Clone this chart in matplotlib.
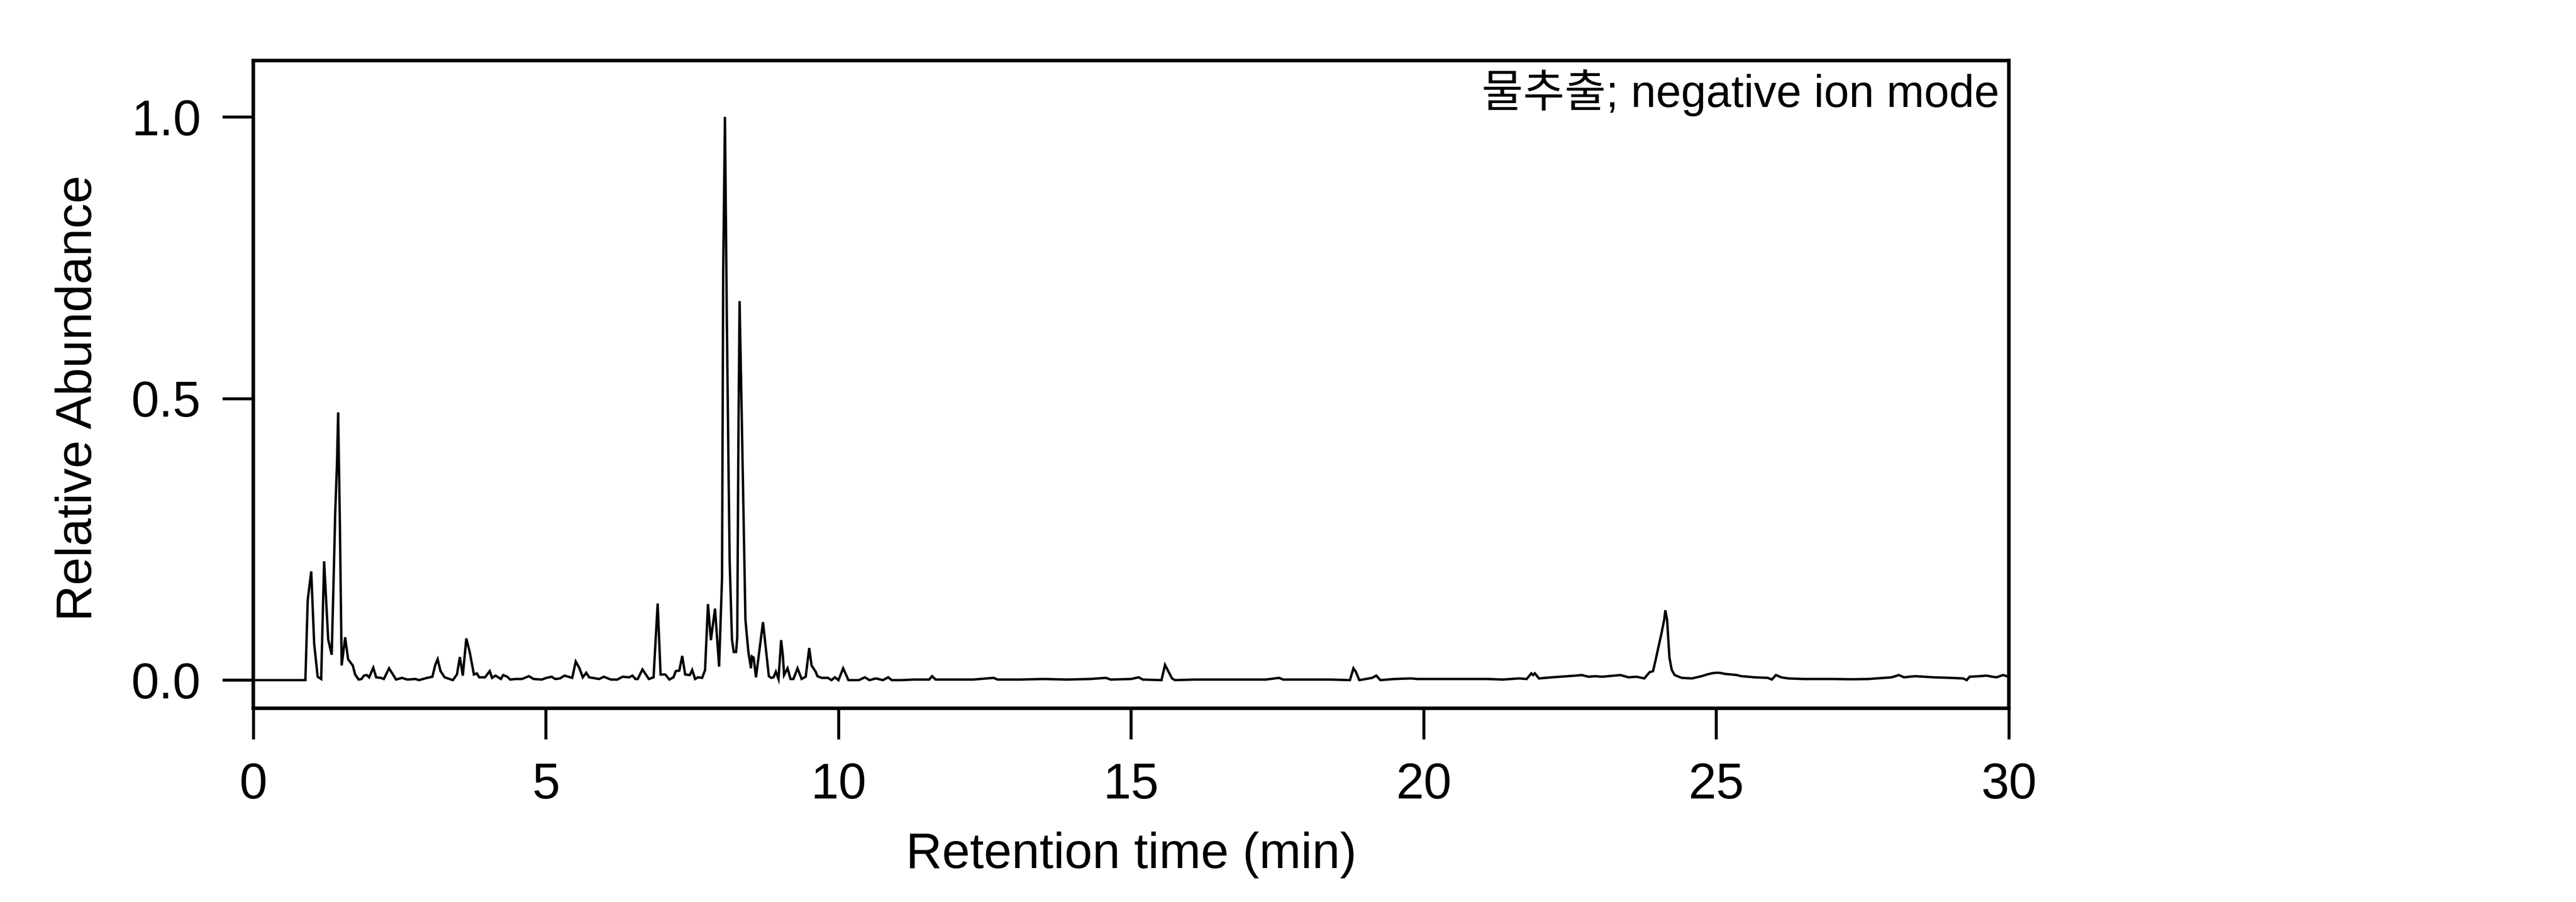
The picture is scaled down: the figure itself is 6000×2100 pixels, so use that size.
import matplotlib
matplotlib.use("Agg")
import matplotlib.pyplot as plt

plt.rcParams['font.family'] = ['Liberation Sans', 'Noto Sans CJK KR', 'DejaVu Sans']

# Chromatogram vertices: (time in min, relative abundance)
early_peaks = [
    (0.05, 0.000), (0.89, 0.000), (0.93, 0.142), (0.99, 0.193), (1.04, 0.065), (1.10, 0.006),
    (1.16, 0.002), (1.21, 0.211), (1.28, 0.072), (1.34, 0.045), (1.38, 0.210), (1.40, 0.298),
    (1.43, 0.384), (1.45, 0.475), (1.48, 0.275), (1.51, 0.026), (1.57, 0.076), (1.62, 0.037),
    (1.70, 0.026), (1.74, 0.010), (1.80, 0.001), (1.85, 0.002), (1.89, 0.008), (1.94, 0.009),
    (1.98, 0.005), (2.05, 0.022), (2.10, 0.005), (2.18, 0.004), (2.23, 0.002), (2.32, 0.021),
    (2.44, 0.001), (2.54, 0.004), (2.63, 0.001), (2.77, 0.002), (2.83, 0.000), (2.97, 0.004),
    (3.06, 0.006), (3.11, 0.027), (3.15, 0.037), (3.20, 0.016), (3.27, 0.005), (3.41, 0.000),
    (3.48, 0.010), (3.53, 0.041), (3.58, 0.008), (3.64, 0.074), (3.70, 0.049), (3.77, 0.010),
    (3.82, 0.012), (3.86, 0.005), (3.96, 0.005), (4.04, 0.016), (4.08, 0.004), (4.14, 0.008),
    (4.23, 0.002), (4.27, 0.009), (4.34, 0.006), (4.39, 0.001), (4.48, 0.002), (4.59, 0.002),
    (4.71, 0.007), (4.79, 0.002), (4.93, 0.001), (5.01, 0.004), (5.10, 0.006), (5.16, 0.002),
    (5.24, 0.003), (5.32, 0.008), (5.45, 0.004), (5.51, 0.033), (5.57, 0.022), (5.63, 0.005),
    (5.69, 0.013), (5.74, 0.005), (5.91, 0.002), (5.99, 0.006), (6.11, 0.001), (6.22, 0.001),
    (6.31, 0.006), (6.42, 0.005), (6.48, 0.008), (6.53, 0.002), (6.57, 0.002), (6.65, 0.019),
    (6.76, 0.002), (6.84, 0.005), (6.91, 0.136), (6.96, 0.010), (7.04, 0.010), (7.11, 0.001),
    (7.18, 0.005), (7.22, 0.016), (7.28, 0.017), (7.33, 0.043), (7.38, 0.010), (7.46, 0.009),
    (7.50, 0.018), (7.55, 0.002), (7.60, 0.005), (7.67, 0.004), (7.72, 0.018),
]
main_peaks = [
    (7.77, 0.135), (7.82, 0.071), (7.89, 0.127), (7.96, 0.024), (8.01, 0.181), (8.03, 0.726),
    (8.06, 1.000), (8.09, 0.664), (8.12, 0.384), (8.14, 0.213), (8.18, 0.072), (8.21, 0.050),
    (8.25, 0.050), (8.27, 0.076), (8.29, 0.430), (8.31, 0.673), (8.34, 0.508), (8.39, 0.220),
    (8.41, 0.107), (8.46, 0.050), (8.505, 0.021), (8.52, 0.042), (8.55, 0.040), (8.59, 0.005),
    (8.71, 0.103), (8.81, 0.007), (8.85, 0.004), (8.89, 0.005), (8.93, 0.015), (8.975, 0.002),
    (9.02, 0.071), (9.05, 0.043), (9.07, 0.009), (9.13, 0.021), (9.18, 0.002), (9.23, 0.002),
    (9.30, 0.021), (9.37, 0.002), (9.44, 0.006), (9.50, 0.057), (9.54, 0.026), (9.61, 0.015),
    (9.64, 0.007), (9.71, 0.004), (9.82, 0.004), (9.88, 0.000), (9.94, 0.005), (10.00, 0.000),
    (10.08, 0.021), (10.17, 0.000), (10.35, 0.000), (10.45, 0.005), (10.53, 0.000), (10.64, 0.003),
    (10.76, 0.000), (10.85, 0.005), (10.91, 0.000), (11.07, 0.000),
]
mid_region = [
    (11.30, 0.001), (11.55, 0.001), (11.60, 0.007), (11.66, 0.001), (12.00, 0.001), (12.30, 0.001),
    (12.65, 0.004), (12.72, 0.001), (13.10, 0.001), (13.50, 0.002), (13.90, 0.001), (14.30, 0.002),
    (14.57, 0.004), (14.65, 0.001), (15.00, 0.002), (15.13, 0.005), (15.20, 0.001), (15.52, 0.000),
    (15.58, 0.027), (15.64, 0.015), (15.70, 0.003), (15.75, 0.000), (16.10, 0.001), (16.50, 0.001),
    (16.90, 0.001), (17.30, 0.001), (17.53, 0.004), (17.60, 0.001), (18.00, 0.001), (18.40, 0.001),
    (18.74, 0.000), (18.80, 0.021), (18.84, 0.015), (18.90, 0.000), (19.12, 0.004), (19.19, 0.008),
    (19.26, 0.000), (19.50, 0.002), (19.78, 0.003), (19.90, 0.002), (20.30, 0.002), (20.70, 0.002),
    (21.10, 0.002), (21.35, 0.001), (21.63, 0.003), (21.76, 0.002), (21.84, 0.012), (21.87, 0.009),
    (21.90, 0.012), (21.97, 0.003),
]
late_region = [
    (22.19, 0.005), (22.33, 0.006), (22.47, 0.007), (22.60, 0.008), (22.70, 0.009), (22.82, 0.006),
    (22.93, 0.007), (23.05, 0.006), (23.15, 0.007), (23.26, 0.008), (23.36, 0.009), (23.50, 0.005),
    (23.64, 0.006), (23.77, 0.003), (23.86, 0.014), (23.92, 0.016), (23.96, 0.034), (24.00, 0.053),
    (24.06, 0.081), (24.11, 0.107), (24.13, 0.124), (24.16, 0.107), (24.20, 0.040), (24.24, 0.018),
    (24.29, 0.009), (24.41, 0.004), (24.58, 0.003), (24.75, 0.007), (24.84, 0.010), (24.92, 0.012),
    (24.98, 0.013), (25.06, 0.013), (25.15, 0.011), (25.26, 0.010), (25.35, 0.009), (25.43, 0.007),
    (25.55, 0.006), (25.65, 0.005), (25.88, 0.004), (25.95, 0.001), (26.02, 0.009), (26.11, 0.005),
    (26.23, 0.003), (26.50, 0.002), (26.74, 0.002), (27.00, 0.002), (27.30, 0.0015), (27.60, 0.002),
    (27.86, 0.004), (28.00, 0.005), (28.12, 0.009), (28.21, 0.005), (28.30, 0.006), (28.40, 0.007),
    (28.55, 0.006), (28.71, 0.005), (29.00, 0.004), (29.22, 0.003), (29.28, 0.000), (29.33, 0.006),
    (29.50, 0.007), (29.62, 0.008), (29.72, 0.006), (29.79, 0.005), (29.90, 0.009), (30.00, 0.006),
]

x_ticks = [0, 5, 10, 15, 20, 25, 30]
y_ticks = [0.0, 0.5, 1.0]
y_tick_labels = ["0.0", "0.5", "1.0"]
x_label = "Retention time (min)"
y_label = "Relative Abundance"
annotation = "물추출; negative ion mode"

trace = early_peaks + main_peaks + mid_region + late_region
time_min = [p[0] for p in trace]
abundance = [p[1] for p in trace]

fig = plt.figure(figsize=(15, 5.25), dpi=400)
ax = fig.add_axes([0.09833, 0.21476, 0.77983 - 0.09833, 0.93286 - 0.21476])

ax.plot(time_min, abundance, color='black', linewidth=1.0, solid_joinstyle='miter')

ax.set_xlim(0, 30)
ax.set_ylim(-0.05, 1.10)
ax.set_xticks(x_ticks)
ax.set_yticks(y_ticks)
ax.set_yticklabels(y_tick_labels)

for sp in ax.spines.values():
    sp.set_linewidth(1.5)
ax.tick_params(axis='both', direction='out', length=13, width=1.25, labelsize=21)
ax.tick_params(axis='x', pad=9.5)
ax.tick_params(axis='y', pad=9)

ax.set_xlabel(x_label, fontsize=21)
ax.set_ylabel(y_label, fontsize=21)
ax.xaxis.set_label_coords(0.5, -0.190)
ax.yaxis.set_label_coords(-0.0863, 0.479)

ax.text(0.9946, 0.9284, annotation, transform=ax.transAxes, ha='right', va='baseline',
        fontsize=18.9)

fig.savefig("out.png", dpi=400)
